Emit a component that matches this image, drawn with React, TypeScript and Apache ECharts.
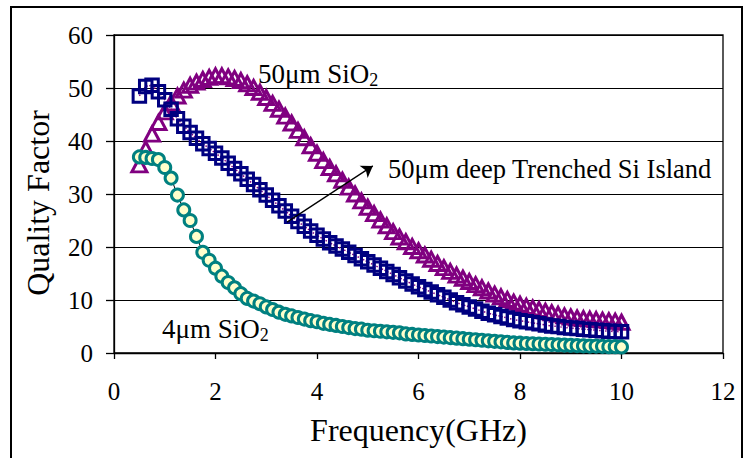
import React, { useEffect, useRef } from "react";
import * as echarts from "echarts";

const freq = [0.5, 0.625, 0.75, 0.875, 1, 1.125, 1.25, 1.375, 1.5, 1.625, 1.75, 1.875, 2, 2.125, 2.25, 2.375, 2.5, 2.625, 2.75, 2.875, 3, 3.125, 3.25, 3.375, 3.5, 3.625, 3.75, 3.875, 4, 4.125, 4.25, 4.375, 4.5, 4.625, 4.75, 4.875, 5, 5.125, 5.25, 5.375, 5.5, 5.625, 5.75, 5.875, 6, 6.125, 6.25, 6.375, 6.5, 6.625, 6.75, 6.875, 7, 7.125, 7.25, 7.375, 7.5, 7.625, 7.75, 7.875, 8, 8.125, 8.25, 8.375, 8.5, 8.625, 8.75, 8.875, 9, 9.125, 9.25, 9.375, 9.5, 9.625, 9.75, 9.875, 10];

const q50SiO2 = [35.5, 38.5, 41.3, 43.5, 45.5, 47.2, 48.5, 49.6, 50.5, 51.1, 51.6, 52.0, 52.3, 52.3, 52.1, 51.8, 51.4, 50.8, 50.1, 49.2, 48.2, 47.1, 46.0, 44.7, 43.4, 42.0, 40.6, 39.1, 37.7, 36.3, 35.0, 33.8, 32.6, 31.3, 30.0, 28.7, 27.5, 26.3, 25.1, 24.0, 22.9, 21.9, 21.0, 20.1, 19.3, 18.5, 17.7, 16.9, 16.1, 15.4, 14.7, 14.1, 13.5, 12.9, 12.3, 11.7, 11.1, 10.6, 10.1, 9.6, 9.2, 8.8, 8.5, 8.2, 7.9, 7.6, 7.3, 7.0, 6.8, 6.6, 6.5, 6.4, 6.3, 6.2, 6.1, 6.0, 5.8];

const q50Trench = [48.5, 50.3, 50.5, 49.3, 47.8, 46.0, 44.2, 42.8, 41.6, 40.5, 39.5, 38.6, 37.7, 36.8, 35.8, 34.8, 33.8, 32.8, 31.8, 30.8, 29.8, 28.8, 27.8, 26.8, 25.8, 24.8, 23.9, 23.0, 22.2, 21.5, 20.8, 20.2, 19.6, 19.0, 18.4, 17.8, 17.2, 16.6, 16.0, 15.4, 14.8, 14.2, 13.6, 13.0, 12.5, 12.0, 11.5, 11.0, 10.5, 10.0, 9.5, 9.1, 8.7, 8.3, 7.9, 7.5, 7.2, 6.9, 6.6, 6.3, 6.1, 5.9, 5.7, 5.5, 5.3, 5.1, 5.0, 4.8, 4.7, 4.6, 4.5, 4.4, 4.3, 4.2, 4.1, 4.05, 4.0];

const q4SiO2 = [37.0, 36.9, 36.7, 36.5, 35.0, 33.0, 29.8, 27.0, 25.0, 22.0, 19.0, 17.5, 16.0, 14.5, 13.3, 12.3, 11.2, 10.3, 9.8, 9.3, 8.7, 8.2, 7.7, 7.3, 7.0, 6.7, 6.4, 6.1, 5.9, 5.6, 5.4, 5.2, 5.0, 4.8, 4.6, 4.5, 4.3, 4.2, 4.1, 4.0, 3.9, 3.8, 3.6, 3.5, 3.4, 3.3, 3.2, 3.1, 3.0, 2.9, 2.8, 2.7, 2.6, 2.5, 2.4, 2.3, 2.2, 2.1, 2.0, 1.9, 1.85, 1.8, 1.75, 1.7, 1.65, 1.6, 1.55, 1.5, 1.45, 1.4, 1.35, 1.3, 1.3, 1.25, 1.2, 1.2, 1.15];

const arrowStart = [3.41, 24.7];
const arrowEnd = [5.1, 35.3];

const FONT = "'Liberation Serif', 'Times New Roman', serif";

const pair = (ys: number[]) => freq.map((x, i) => [x, ys[i]]);

export default function App() {
  const ref = useRef<HTMLDivElement>(null);
  useEffect(() => {
    document.body.style.margin = "0";
    if (!ref.current) return;
    const chart = echarts.init(ref.current, null, { renderer: "svg" });
    chart.setOption({
      animation: false,
      backgroundColor: "#fff",
      grid: {
        left: 114,
        right: 21,
        top: 35,
        bottom: 105,
        show: true,
        borderColor: "#000",
        borderWidth: 1.3,
      },
      xAxis: {
        type: "value",
        min: 0,
        max: 12,
        interval: 2,
        name: "Frequency(GHz)",
        nameLocation: "middle",
        nameGap: 61,
        nameTextStyle: { color: "#000", fontSize: 32, fontFamily: FONT },
        axisLine: { show: true, lineStyle: { color: "#000", width: 1.3 } },
        axisTick: { show: true, length: 6, lineStyle: { color: "#000", width: 1.3 } },
        axisLabel: { color: "#000", fontSize: 25, fontFamily: FONT, margin: 26 },
        splitLine: { show: false },
      },
      yAxis: {
        type: "value",
        min: 0,
        max: 60,
        interval: 10,
        axisLine: { show: true, lineStyle: { color: "#000", width: 1.3 } },
        axisTick: { show: true, length: 8, lineStyle: { color: "#000", width: 1.3 } },
        axisLabel: { color: "#000", fontSize: 25, fontFamily: FONT, margin: 21 },
        splitLine: { show: true, lineStyle: { color: "#000", width: 1.1 } },
      },
      series: [
        {
          name: "50μm SiO2",
          type: "line",
          data: pair(q50SiO2),
          symbol: "triangle",
          symbolSize: [15, 14],
          showSymbol: true,
          lineStyle: { width: 0, opacity: 0 },
          itemStyle: { color: "transparent", borderColor: "#800080", borderWidth: 3 },
          z: 2,
        },
        {
          name: "50μm deep Trenched Si Island",
          type: "line",
          data: pair(q50Trench),
          symbol: "rect",
          symbolSize: 12.5,
          showSymbol: true,
          lineStyle: { width: 1.5, color: "#800080", type: "dotted" },
          itemStyle: { color: "transparent", borderColor: "#000080", borderWidth: 3 },
          z: 3,
          markLine: {
            silent: true,
            symbol: ["none", "arrow"],
            symbolSize: 11,
            label: { show: false },
            lineStyle: { color: "#000", width: 1.3, type: "solid" },
            data: [[{ coord: arrowStart }, { coord: arrowEnd }]],
          },
        },
        {
          name: "4μm SiO2",
          type: "line",
          data: pair(q4SiO2),
          symbol: "circle",
          symbolSize: 12,
          showSymbol: true,
          lineStyle: { width: 1, color: "#000" },
          itemStyle: { color: "#FFFFCC", borderColor: "#008080", borderWidth: 3 },
          z: 4,
        },
      ],
      graphic: [
        {
          type: "rect",
          shape: { x: 11, y: 7, width: 731, height: 470 },
          style: { fill: "none", stroke: "#000", lineWidth: 2 },
          silent: true,
        },
        {
          type: "text",
          x: 38,
          y: 203,
          rotation: Math.PI / 2,
          style: {
            text: "Quality Factor",
            fontSize: 32,
            fontFamily: FONT,
            fill: "#000",
            align: "center",
            verticalAlign: "middle",
          },
        },
        {
          type: "text",
          x: 258,
          y: 74,
          style: {
            text: "{a|50μm SiO}{s|2}",
            verticalAlign: "middle",
            rich: {
              a: { fontSize: 27, fontFamily: FONT, fill: "#000", lineHeight: 30 },
              s: { fontSize: 18, fontFamily: FONT, fill: "#000", lineHeight: 17, verticalAlign: "bottom" },
            },
          },
        },
        {
          type: "text",
          x: 388,
          y: 169,
          style: {
            text: "50μm deep Trenched Si Island",
            fontSize: 26.5,
            fontFamily: FONT,
            fill: "#000",
            verticalAlign: "middle",
          },
        },
        {
          type: "text",
          x: 162,
          y: 329,
          style: {
            text: "{a|4μm SiO}{s|2}",
            verticalAlign: "middle",
            rich: {
              a: { fontSize: 27, fontFamily: FONT, fill: "#000", lineHeight: 30 },
              s: { fontSize: 18, fontFamily: FONT, fill: "#000", lineHeight: 17, verticalAlign: "bottom" },
            },
          },
        },
      ],
    });
    return () => chart.dispose();
  }, []);
  return <div ref={ref} style={{ width: 744, height: 458 }} />;
}
